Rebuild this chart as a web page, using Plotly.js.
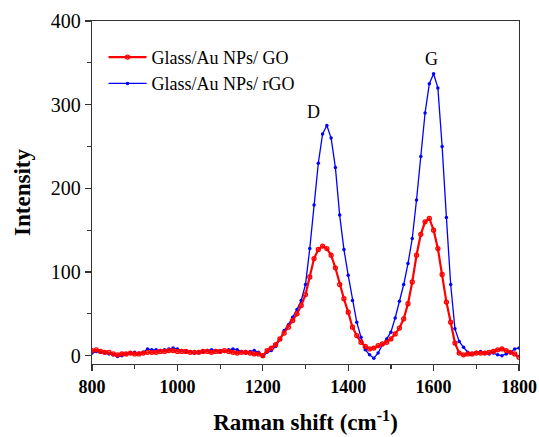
<!DOCTYPE html>
<html>
<head>
<meta charset="utf-8">
<script src="https://cdn.plot.ly/plotly-3.0.1.min.js"></script>
<style>html,body{margin:0;padding:0;background:#fff;}#chart{width:539px;height:437px;}</style>
</head>
<body>
<div id="chart"></div>
<script>
// Raman shift (cm^-1), 800..1800 step 10
const ramanShift = [
 800, 810, 820, 830, 840, 850, 860, 870, 880, 890,
 900, 910, 920, 930, 940, 950, 960, 970, 980, 990,
 1000, 1010, 1020, 1030, 1040, 1050, 1060, 1070, 1080, 1090,
 1100, 1110, 1120, 1130, 1140, 1150, 1160, 1170, 1180, 1190,
 1200, 1210, 1220, 1230, 1240, 1250, 1260, 1270, 1280, 1290,
 1300, 1310, 1320, 1330, 1340, 1350, 1360, 1370, 1380, 1390,
 1400, 1410, 1420, 1430, 1440, 1450, 1460, 1470, 1480, 1490,
 1500, 1510, 1520, 1530, 1540, 1550, 1560, 1570, 1580, 1590,
 1600, 1610, 1620, 1630, 1640, 1650, 1660, 1670, 1680, 1690,
 1700, 1710, 1720, 1730, 1740, 1750, 1760, 1770, 1780, 1790,
 1800
];
// Glass/Au NPs/ GO (red)
const intensityGO = [
 6, 7, 5, 4, 4, 2, 1, 2, 2, 3,
 2, 2, 3, 4, 4, 4, 5, 5, 6, 6,
 5, 5, 5, 4, 4, 4, 5, 5, 4, 5,
 5, 6, 5, 4, 3, 4, 4, 3, 2, 2,
 0, 6, 9, 13, 20, 27, 34, 42, 50, 60,
 73, 94, 116, 127, 131, 128, 120, 105, 85, 68,
 52, 34, 24, 16, 11, 8, 9, 12, 14, 16,
 20, 26, 33, 44, 62, 88, 120, 145, 160, 164,
 150, 128, 97, 64, 40, 15, 3, 1, 2, 2,
 3, 3, 3, 4, 5, 7, 8, 6, 4, 2,
 -2
];
// Glass/Au NPs/ rGO (blue)
const intensityRGO = [
 3, 5, 4, 3, 2, 1, -1, 0, 2, 3,
 4, 3, 4, 8, 7, 7, 6, 7, 8, 9,
 8, 6, 5, 5, 3, 4, 5, 6, 7, 6,
 5, 5, 7, 8, 7, 5, 4, 5, 6, 4,
 -1, 4, 6, 11, 19, 30, 37, 46, 55, 66,
 85, 128, 180, 230, 265, 275, 260, 225, 168, 127,
 96, 66, 40, 22, 7, 1, -3, 3, 13, 20,
 28, 45, 65, 85, 110, 140, 186, 238, 290, 325,
 337, 320, 250, 165, 85, 32, 17, 10, 4, 2,
 4, 5, 3, 2, 3, 1, 0, 2, 4, 8,
 9
];
const seriesNames = ["Glass/Au NPs/ GO", "Glass/Au NPs/ rGO"];
const peakLabels = ["D", "G"];
const peakLabelX = [1318, 1596];
const peakLabelY = [291, 354];

const serif = "Liberation Serif, Times New Roman, serif";

const traces = [
  {
    x: ramanShift, y: intensityRGO, name: seriesNames[1],
    type: "scatter", mode: "lines+markers",
    line: {color: "#0000ff", width: 1.3},
    marker: {color: "#0000ff", size: 3.5, symbol: "circle"}
  },
  {
    x: ramanShift, y: intensityGO, name: seriesNames[0],
    type: "scatter", mode: "lines+markers",
    line: {color: "#ff0000", width: 2.2},
    marker: {color: "#ff0000", size: 4, symbol: "circle-open", line: {color: "#ff0000", width: 1.3}}
  }
];

const layout = {
  width: 539, height: 437,
  margin: {l: 92, r: 20, t: 21, b: 73},
  paper_bgcolor: "#fff", plot_bgcolor: "#fff",
  font: {family: serif, color: "#000"},
  showlegend: true,
  legend: {
    x: 0.027, y: 0.948, xanchor: "left", yanchor: "top",
    traceorder: "reversed",
    font: {family: serif, size: 18, color: "#000"},
    bgcolor: "rgba(0,0,0,0)", borderwidth: 0,
    itemwidth: 38, tracegroupgap: 0
  },
  xaxis: {
    range: [800, 1800], tickvals: [800, 1000, 1200, 1400, 1600, 1800],
    ticks: "outside", ticklen: 6, tickwidth: 1.2, tickcolor: "#333",
    minor: {tickvals: [900, 1100, 1300, 1500, 1700], ticks: "outside", ticklen: 4, tickwidth: 1.2, tickcolor: "#333"},
    showline: true, linecolor: "#333", linewidth: 1.3, mirror: true,
    showgrid: false, zeroline: false,
    tickfont: {family: serif, size: 18, color: "#000", weight: "bold"},
    title: {text: "Raman shift (cm<sup>-1</sup>)", font: {family: serif, size: 23, color: "#000", weight: "bold"}, standoff: 18}
  },
  yaxis: {
    range: [-10, 400], tickvals: [0, 100, 200, 300, 400],
    ticks: "outside", ticklen: 6, tickwidth: 1.2, tickcolor: "#333",
    minor: {tickvals: [50, 150, 250, 350], ticks: "outside", ticklen: 4, tickwidth: 1.2, tickcolor: "#333"},
    showline: true, linecolor: "#333", linewidth: 1.3, mirror: true,
    showgrid: false, zeroline: false,
    tickfont: {family: serif, size: 20, color: "#000"},
    title: {text: "Intensity", font: {family: serif, size: 23, color: "#000", weight: "bold"}, standoff: 13}
  },
  annotations: peakLabels.map((t, i) => ({
    x: peakLabelX[i], y: peakLabelY[i], text: t, showarrow: false,
    font: {family: serif, size: 18, color: "#000"}
  }))
};

Plotly.newPlot("chart", traces, layout, {displayModeBar: false, staticPlot: true});
</script>
</body>
</html>
